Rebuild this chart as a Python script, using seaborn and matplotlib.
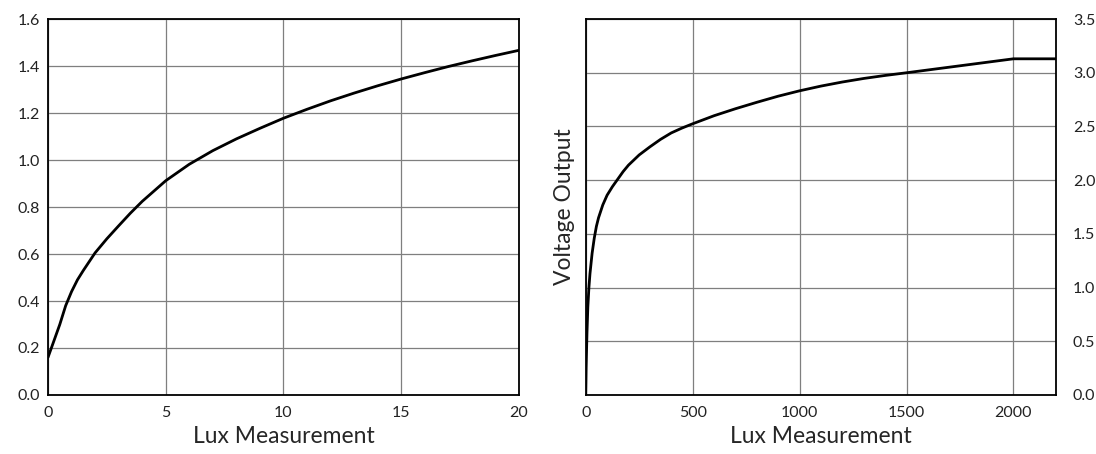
import pandas as pd
import matplotlib
matplotlib.use("Agg")
import matplotlib.pyplot as plt
import seaborn as sns

# Low light range (left panel)
lux_low = [0, 0.25, 0.5, 0.75, 1.0, 1.25, 1.5, 2, 2.5, 3, 3.5, 4, 5, 6, 7, 8, 9,
           10, 11, 12, 13, 14, 15, 16, 17, 18, 19, 20]
volt_low = [0.16, 0.23, 0.30, 0.38, 0.44, 0.49, 0.53, 0.605, 0.665, 0.72, 0.774,
            0.824, 0.912, 0.982, 1.04, 1.09, 1.135, 1.178, 1.216, 1.252, 1.285,
            1.316, 1.345, 1.372, 1.398, 1.422, 1.445, 1.467]

# Full range (right panel)
lux_full = [0, 1, 2, 4, 6, 8, 10, 15, 20, 30, 40, 50, 60, 80, 100, 125, 150, 175,
            200, 250, 300, 350, 400, 450, 500, 600, 700, 800, 900, 1000, 1100,
            1200, 1300, 1400, 1500, 1600, 1700, 1800, 1900, 2000, 2200]
volt_full = [0, 0.12, 0.25, 0.42, 0.58, 0.70, 0.82, 1.0, 1.13, 1.32, 1.46, 1.57,
             1.65, 1.77, 1.86, 1.94, 2.01, 2.08, 2.14, 2.235, 2.31, 2.38, 2.44,
             2.485, 2.525, 2.60, 2.665, 2.725, 2.782, 2.832, 2.876, 2.914, 2.947,
             2.975, 3.0, 3.026, 3.052, 3.078, 3.104, 3.13, 3.13]

df_low = pd.DataFrame({'lux': lux_low, 'volt': volt_low})
df_full = pd.DataFrame({'lux': lux_full, 'volt': volt_full})

sns.set_theme(style='white')
plt.rcParams['font.family'] = ['Lato', 'DejaVu Sans']

fig = plt.figure(figsize=(10.96, 4.54), dpi=100)
ax1 = fig.add_axes([0.0438, 0.130, 0.4297, 0.828])
ax2 = fig.add_axes([0.5344, 0.130, 0.4293, 0.828])

for ax in (ax1, ax2):
    ax.grid(True, color='#7f7f7f', linewidth=0.9)
    ax.set_axisbelow(True)
    for s in ax.spines.values():
        s.set_color('black')
        s.set_linewidth(1.3)
    ax.tick_params(axis='both', length=0, labelsize=11.5, colors='#222222', pad=8)

# Left panel
sns.lineplot(data=df_low, x='lux', y='volt', color='black', linewidth=2, ax=ax1)
ax1.set_xlim(0, 20)
ax1.set_ylim(0, 1.6)
ax1.set_xticks([0, 5, 10, 15, 20])
ax1.set_yticks([0.0, 0.2, 0.4, 0.6, 0.8, 1.0, 1.2, 1.4, 1.6])
ax1.yaxis.set_major_formatter(matplotlib.ticker.FormatStrFormatter('%.1f'))
ax1.tick_params(axis='y', pad=6)
ax1.set_xlabel('Lux Measurement', fontsize=16.5, labelpad=4)
ax1.set_ylabel('')

# Right panel
sns.lineplot(data=df_full, x='lux', y='volt', color='black', linewidth=2, ax=ax2)
ax2.set_xlim(0, 2200)
ax2.set_ylim(0, 3.5)
ax2.set_xticks([0, 500, 1000, 1500, 2000])
ax2.set_yticks([0.0, 0.5, 1.0, 1.5, 2.0, 2.5, 3.0, 3.5])
ax2.yaxis.set_major_formatter(matplotlib.ticker.FormatStrFormatter('%.1f'))
ax2.yaxis.tick_right()
ax2.tick_params(axis='y', pad=12)
ax2.set_xlabel('Lux Measurement', fontsize=16.5, labelpad=4)
ax2.set_ylabel('Voltage Output', fontsize=16.5, labelpad=8)
ax2.yaxis.set_label_position('left')

plt.savefig('out.png', dpi=100)
plt.close()
